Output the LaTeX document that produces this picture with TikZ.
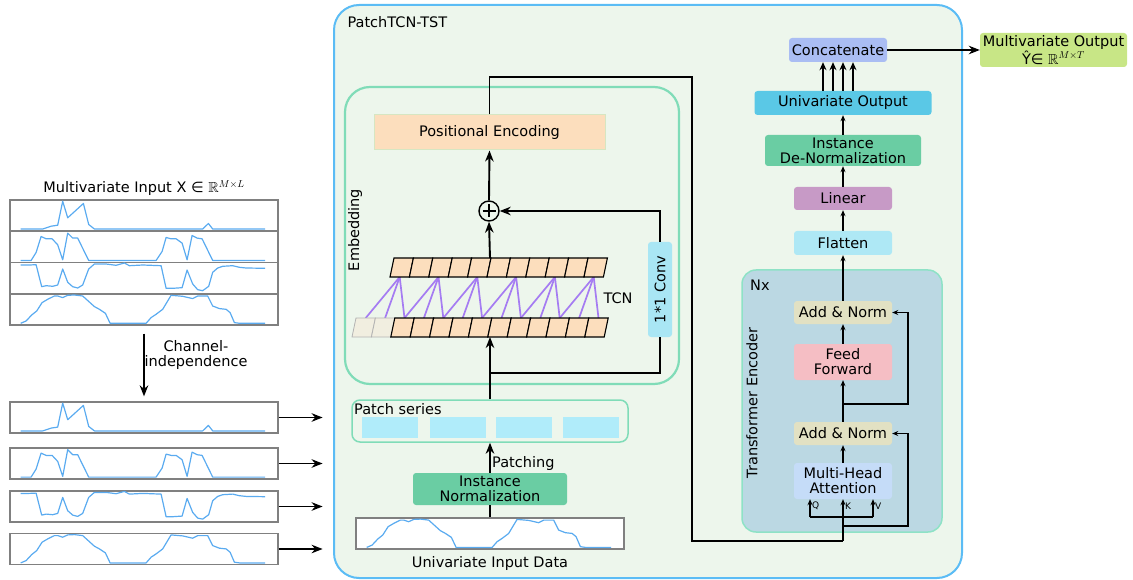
\documentclass[tikz,border=0pt]{standalone}
\usepackage{fontspec}
\usepackage{amssymb}
\setmainfont{DejaVu Sans}
\usetikzlibrary{arrows.meta}

\definecolor{frameblue}{HTML}{5BBCF5}
\definecolor{panelgreen}{HTML}{EDF6EC}
\definecolor{mint}{HTML}{80DCB8}
\definecolor{peach}{HTML}{FCDEBD}
\definecolor{peachedge}{HTML}{D6E6C2}
\definecolor{palecell}{HTML}{F1EEE0}
\definecolor{tcnpurple}{HTML}{A57CF2}
\definecolor{convcyan}{HTML}{A9E6F4}
\definecolor{patchcyan}{HTML}{B0ECFA}
\definecolor{normgreen}{HTML}{6ACDA3}
\definecolor{wavecol}{HTML}{5AABF0}
\definecolor{boxgray}{HTML}{808080}
\definecolor{encblue}{HTML}{BBD8E3}
\definecolor{encedge}{HTML}{8EE2C6}
\definecolor{mhablue}{HTML}{C5DCF8}
\definecolor{addbeige}{HTML}{E2E1C3}
\definecolor{ffpink}{HTML}{F5BEC4}
\definecolor{flatcyan}{HTML}{AEE8F5}
\definecolor{linpurple}{HTML}{C79AC6}
\definecolor{outcyan}{HTML}{5AC8E6}
\definecolor{catblue}{HTML}{AABDF3}
\definecolor{outlime}{HTML}{C8E686}

% signal traces, in box-local coordinates (box 268 x 31)
\def\wavea{(11.3,29.5) -- (33.3,29.5) -- (41.7,26.7) -- (48.3,25.7) -- (53.3,1.7) -- (58.3,18.3) -- (74,4) -- (79.3,25) -- (85,29.5) -- (193.3,29.5) -- (199,24) -- (203.3,29.5) -- (255.7,29.5)}
\def\waveb{(11.3,29.7) -- (21.7,29.7) -- (26.7,21.7) -- (31.7,5.7) -- (36.7,8) -- (42.7,8) -- (48.3,14) -- (53.3,29) -- (58.3,2.3) -- (63.3,7.3) -- (68.3,7.3) -- (79.3,29.7) -- (146.7,29.7) -- (152.7,20.7) -- (156.7,6.7) -- (161.7,8) -- (166.7,8) -- (172.7,12.3) -- (177.7,29) -- (182.7,4.7) -- (187.7,7.3) -- (192.7,8) -- (203.3,29.7) -- (255.7,29.7)}
\def\wavec{(11.3,3) -- (20,3) -- (26.7,2.7) -- (32.3,24.7) -- (36.7,23.7) -- (43.3,24.3) -- (48.3,23) -- (53.3,7) -- (58.3,20.3) -- (63.3,24.7) -- (68.3,26) -- (73.3,23) -- (79.3,7) -- (85,2) -- (96.7,2) -- (106.7,3.3) -- (115,1) -- (120,3.7) -- (133.3,3) -- (151.7,3.7) -- (156.7,26.3) -- (163.3,26.3) -- (172.7,25.7) -- (177.7,8) -- (183.3,22) -- (188.3,27.7) -- (193.3,28.7) -- (199.3,24.3) -- (203.3,10.3) -- (208.3,6) -- (213.3,4.3) -- (223.3,3.7) -- (230,5.3) -- (236.7,6) -- (255.7,6.3)}
\def\waved{(11.3,30) -- (16.7,27.7) -- (22.3,21.7) -- (27.3,17.7) -- (32.7,9.3) -- (38.3,6) -- (45,2.7) -- (48.3,2.7) -- (53.3,4.3) -- (58.3,2) -- (65,1.7) -- (73.3,2.7) -- (85,13.3) -- (90,16) -- (96,20) -- (100.7,30) -- (136.7,30) -- (141.7,24.3) -- (146.7,21) -- (153.3,16) -- (161.7,2) -- (173.3,3) -- (183.3,5.3) -- (188.3,2.7) -- (198.3,2.7) -- (203.3,12.7) -- (210,15.3) -- (216.7,16) -- (220.7,19.3) -- (225,29.3) -- (230,30) -- (255.7,30)}

\tikzset{
  txt/.style={font=\fontsize{14.5}{15}\selectfont},
  sz/.style 2 args={minimum width=#1pt, minimum height=#2pt},
  blk/.style={txt, rounded corners=3pt, inner sep=0pt, align=center},
  wavebox/.style={draw=boxgray, line width=1.2pt, sz={268}{31}, inner sep=0pt},
  sig/.style={draw=wavecol, line width=1.2pt, line join=round},
  link/.style={line width=1.9pt},
  bigarrow/.style={line width=1.9pt, -{Stealth[length=11pt,width=8.5pt]}},
  midarrow/.style={line width=1.9pt, -{Stealth[length=8pt,width=7pt]}},
  smallarrow/.style={line width=1.6pt, -{Stealth[length=6pt,width=5pt]}},
  tinytxt/.style={font=\fontsize{9}{9}\selectfont, inner sep=1pt, anchor=west},
}

\begin{document}
\begin{tikzpicture}[x=1pt,y=-1pt]
\useasboundingbox (0,0) rectangle (1133,580);

% ---------------- left: multivariate input ----------------
\node[txt] (mvin) at (144,188) {Multivariate Input X ∈ $\mathbb{R}^{M\times L}$};
\node[wavebox] (s1) at (144,215.6) {};
\node[wavebox] (s2) at (144,246.9) {};
\node[wavebox] (s3) at (144,278.1) {};
\node[wavebox] (s4) at (144,309.4) {};
\node[wavebox] (c1) at (144,417.5) {};
\node[wavebox] (c2) at (144,463.5) {};
\node[wavebox] (c3) at (144,506.5) {};
\node[wavebox] (c4) at (144,549) {};
\foreach \n/\w in {s1/\wavea, s2/\waveb, s3/\wavec, s4/\waved, c1/\wavea, c2/\waveb, c3/\wavec, c4/\waved} {
  \begin{scope}[shift={(\n.north west)}]
    \draw[sig] \w;
  \end{scope}
}
\draw[bigarrow] ([yshift=-8pt]s4.south) -- ([yshift=5pt]c1.north);
\node[txt, align=center] (chind) at (196,355) {Channel-\\independence};
\foreach \n in {c1,c2,c3,c4} \draw[bigarrow] (\n.east) -- ++(44,0);

% ---------------- main panel ----------------
\node[draw=frameblue, line width=2pt, fill=panelgreen, rounded corners=25pt, sz={628}{573}, inner sep=0pt] (panel) at (648,291.5) {};
\node[txt, anchor=west] (title) at (344,22) {PatchTCN-TST};

% embedding block
\node[draw=mint, line width=2.2pt, rounded corners=25pt, sz={334}{297}, inner sep=0pt] (embed) at (512,235.5) {};
\node[txt, rotate=90] (embedlbl) at (355,230) {Embedding};

\node[blk, rounded corners=0pt, fill=peach, draw=peachedge, line width=1pt, sz={231}{35}] (posenc) at (489.5,132.5) {Positional Encoding};

\node[circle, draw, line width=1.4pt, minimum size=20pt, inner sep=0pt] (plus) at (489,211) {};
\draw[line width=1.4pt] ([yshift=6.5pt]plus.center) -- ([yshift=-6.5pt]plus.center)
                        ([xshift=-6.5pt]plus.center) -- ([xshift=6.5pt]plus.center);

% TCN: causal connections between the two rows
\foreach \i in {0,2,...,10} {
  \foreach \k in {0,1,2} {
    \draw[tcnpurple, line width=1.7pt] (399.7+19.4*\i,277) -- (365.7+19.4*\i+19.4*\k,318);
  }
}
\foreach \i in {0,...,10} {
  \draw[fill=peach, line width=1.1pt] (390+19.4*\i,277) -- (409.4+19.4*\i,277) -- (413.4+19.4*\i,258) -- (394+19.4*\i,258) -- cycle;
}
\foreach \j in {0,1} {
  \draw[fill=palecell, draw=boxgray!60, line width=0.8pt] (352+19.4*\j,337) -- (371.4+19.4*\j,337) -- (375.4+19.4*\j,318) -- (356+19.4*\j,318) -- cycle;
}
\foreach \j in {2,...,12} {
  \draw[fill=peach, line width=1.1pt] (352+19.4*\j,337) -- (371.4+19.4*\j,337) -- (375.4+19.4*\j,318) -- (356+19.4*\j,318) -- cycle;
}
\coordinate (tcnout) at (490,258);
\coordinate (tcnin) at (490,337);
\coordinate (split) at (490,373);
\node[txt] (tcnlbl) at (618,298) {TCN};

\node[fill=convcyan, rounded corners=3pt, sz={24}{95}, inner sep=0pt] (conv) at (660,289.5) {};
\node[txt, rotate=90] (convlbl) at (conv.center) {1*1 Conv};

% patches
\node[draw=mint, line width=1.5pt, fill=panelgreen, rounded corners=8pt, sz={276}{42}, inner sep=0pt] (patch) at (490,421) {};
\node[txt, anchor=west, inner sep=0pt] (patchlbl) at (354,409) {Patch series};
\foreach \x/\n in {390/pa, 457.5/pb, 524/pc, 591/pd}
  \node[fill=patchcyan, sz={56}{21}, inner sep=0pt] (\n) at (\x,427.5) {};

\node[blk, fill=normgreen, sz={154}{32}] (inorm) at (490,489) {Instance\\Normalization};
\node[wavebox, fill=white] (uni) at (490,533.5) {};
\begin{scope}[shift={(uni.north west)}]
  \draw[sig] \waved;
\end{scope}
\node[txt] (unilbl) at (490,563) {Univariate Input Data};

% embedding connections
\draw[link] (uni.north) -- (inorm.south);
\draw[bigarrow] (inorm.north) -- (patch.south);
\node[txt, anchor=west, inner sep=0pt] (patchinglbl) at (492,463) {Patching};
\draw[bigarrow] (patch.north) -- (tcnin);
\draw[link] (split) -| (conv.south);
\draw[bigarrow] (conv.north) |- (plus.east);
\draw[bigarrow] (tcnout) -- (plus.south);
\draw[bigarrow] (plus.north) -- (posenc.south);

% ---------------- transformer encoder ----------------
\node[draw=encedge, fill=encblue, line width=1.5pt, rounded corners=14pt, sz={200}{262}, inner sep=0pt] (enc) at (842,401) {};
\node[txt, anchor=west, inner sep=0pt] (nxlbl) at (750,285) {Nx};
\node[txt, rotate=90] (enclbl) at (752,403) {Transformer Encoder};

\node[blk, fill=mhablue, sz={98}{36}] (mha) at (843,481) {Multi-Head\\Attention};
\node[blk, fill=addbeige, sz={98}{23}] (addA) at (843,433.5) {Add \& Norm};
\node[blk, fill=ffpink, sz={98}{36}] (ff) at (843,362) {Feed\\Forward};
\node[blk, fill=addbeige, sz={98}{23}] (addB) at (843,312.5) {Add \& Norm};

\node[blk, fill=flatcyan, sz={98}{24}] (flatten) at (843,243) {Flatten};
\node[blk, fill=linpurple, sz={98}{23}] (linear) at (843,198.5) {Linear};
\node[blk, fill=normgreen, sz={156}{31}] (denorm) at (843,150.5) {Instance\\De-Normalization};
\node[blk, fill=outcyan, sz={177}{24}] (uniout) at (843,103) {Univariate Output};
\node[blk, fill=catblue, sz={98}{24}] (concat) at (838,50) {Concatenate};
\node[blk, fill=outlime, sz={147}{34}] (mvout) at (1053.5,50) {Multivariate Output\\Ŷ∈ $\mathbb{R}^{M\times T}$};

% route from the embedding into the encoder
\coordinate (hopA) at (692,77);
\coordinate (hopB) at (692,541);
\coordinate (kfoot) at (843,541);
\draw[link] (posenc.north) |- (hopA) -- (hopB) -- (kfoot);

\coordinate (qfoot) at (810,517);
\coordinate (vfoot) at (873,517);
\draw[link] (qfoot) -- (vfoot);
\draw[smallarrow] (qfoot) -- (qfoot |- mha.south);
\draw[smallarrow] (vfoot) -- (vfoot |- mha.south);
\draw[smallarrow] (kfoot) -- (kfoot |- mha.south);
\node[tinytxt] (qlbl) at (811,506) {Q};
\node[tinytxt] (klbl) at (844,506) {K};
\node[tinytxt] (vlbl) at (874,506) {V};

\coordinate (resA) at (843,526);
\coordinate (resB) at (843,404);
\draw[smallarrow] (resA) -| ([xshift=16pt]addA.east) -- (addA.east);
\draw[smallarrow] (resB) -| ([xshift=16pt]addB.east) -- (addB.east);

\draw[smallarrow] (mha.north) -- (addA.south);
\draw[smallarrow] (addA.north) -- (ff.south);
\draw[smallarrow] (ff.north) -- (addB.south);
\draw[smallarrow] (addB.north) -- (flatten.south);
\draw[smallarrow] (flatten.north) -- (linear.south);
\draw[smallarrow] (linear.north) -- (denorm.south);
\draw[smallarrow] (denorm.north) -- (uniout.south);
\foreach \d in {-15,-5,5,15}
  \draw[midarrow] ([xshift=\d pt]concat.south |- uniout.north) -- ([xshift=\d pt]concat.south);
\draw[bigarrow] (concat.east) -- (mvout.west);
\end{tikzpicture}
\end{document}
